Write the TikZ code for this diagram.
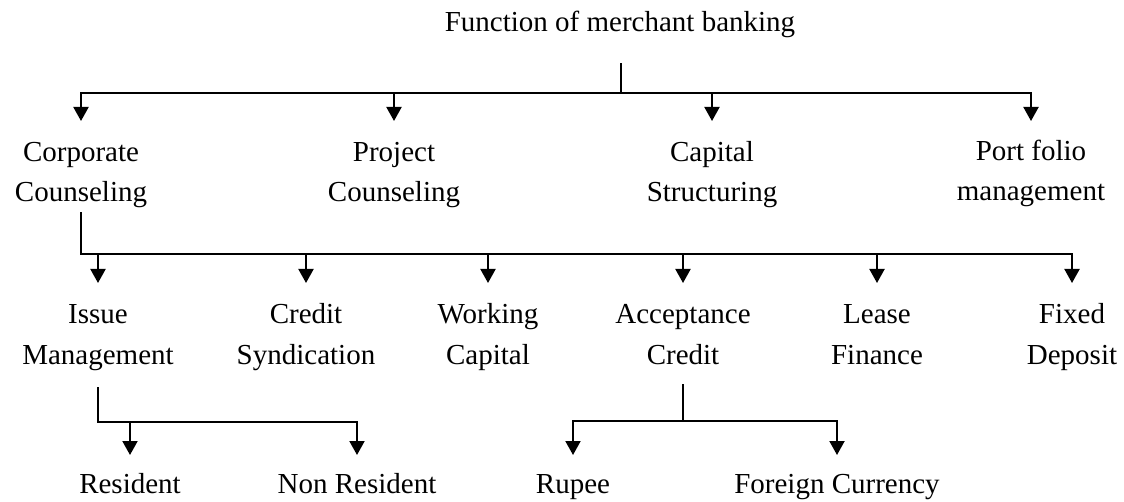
\documentclass[tikz,border=0pt]{standalone}
\usepackage{fontspec}
\setmainfont{Liberation Serif}
\usetikzlibrary{arrows.meta}
\begin{document}
\begin{tikzpicture}[x=1pt,y=-1pt,
  lbl/.style={anchor=base,inner sep=0pt,font=\fontsize{29}{40}\selectfont},
  lbltwo/.style={lbl,font=\fontsize{29}{41}\selectfont},
  wire/.style={line width=2.2pt,line cap=rect},
  arr/.style={line width=2pt,-{Triangle[length=14pt,width=15pt]}}]
\useasboundingbox (0,0) rectangle (1124,502);
\newcommand{\twol}[2]{\setlength{\tabcolsep}{0pt}\begin{tabular}[t]{c}#1\\#2\end{tabular}}
% labels
\node[lbl] (title) at (620,32) {Function of merchant banking};
\node[lbl] (cc) at (81,162) {\twol{Corporate}{Counseling}};
\node[lbl] (pc) at (394,162) {\twol{Project}{Counseling}};
\node[lbl] (cs) at (712,162) {\twol{Capital}{Structuring}};
\node[lbl] (pm) at (1031,161) {\twol{Port folio}{management}};
\node[lbltwo] (im) at (98,324) {\twol{Issue}{Management}};
\node[lbltwo] (csy) at (306,324) {\twol{Credit}{Syndication}};
\node[lbltwo] (wc) at (488,324) {\twol{Working}{Capital}};
\node[lbltwo] (ac) at (683,324) {\twol{Acceptance}{Credit}};
\node[lbltwo] (lf) at (877,324) {\twol{Lease}{Finance}};
\node[lbltwo] (fd) at (1072,324) {\twol{Fixed}{Deposit}};
\node[lbl] (res) at (130,493) {Resident};
\node[lbl] (nres) at (357,493) {Non Resident};
\node[lbl] (rup) at (573,493) {Rupee};
\node[lbl] (fc) at (837,493) {Foreign Currency};
% bus coordinates
\coordinate (t0) at (621,64);
\coordinate (b1) at (621,93);
\coordinate (c0) at (81,213);
\coordinate (b2) at (81,254);
\coordinate (i0) at (98,388);
\coordinate (b3) at (98,422);
\coordinate (a0) at (683,385);
\coordinate (b4) at (683,421);
% level 1
\draw[wire] (t0) -- (b1);
\draw[wire] (cc |- b1) -- (pm |- b1);
\foreach \n in {cc,pc,cs,pm} \draw[arr] (\n |- b1) -- ++(0,28);
% level 2
\draw[wire] (c0) -- (b2) -- (fd |- b2);
\foreach \n in {im,csy,wc,ac,lf,fd} \draw[arr] (\n |- b2) -- ++(0,29);
% level 3 left
\draw[wire] (i0) -- (b3) -- (nres |- b3);
\foreach \n in {res,nres} \draw[arr] (\n |- b3) -- ++(0,33);
% level 3 right
\draw[wire] (a0) -- (b4);
\draw[wire] (rup |- b4) -- (fc |- b4);
\foreach \n in {rup,fc} \draw[arr] (\n |- b4) -- ++(0,34);
\end{tikzpicture}
\end{document}
